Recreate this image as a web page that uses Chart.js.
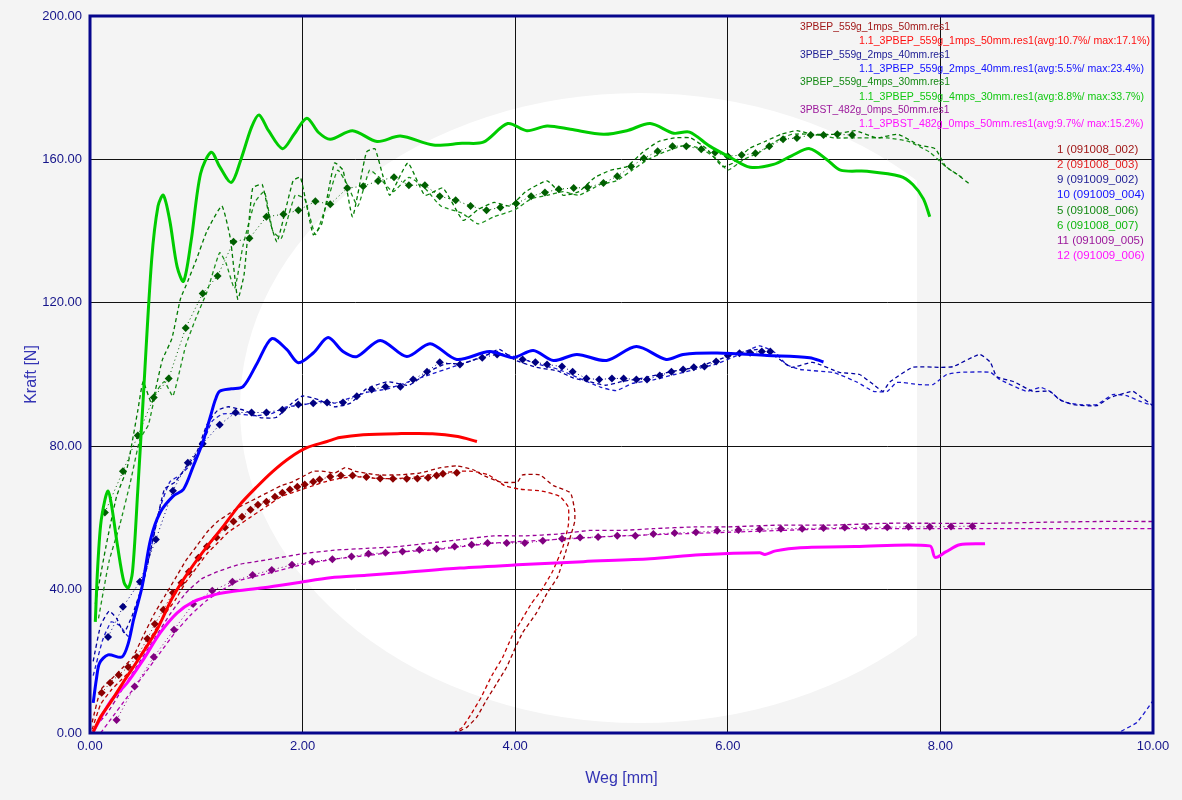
<!DOCTYPE html>
<html>
<head>
<meta charset="utf-8">
<script src="https://cdn.jsdelivr.net/npm/chart.js@4.4.1/dist/chart.umd.min.js"></script>
<style>
  html, body { margin: 0; padding: 0; background: #f4f4f4; }
  #wrap { width: 1182px; height: 800px; }
</style>
</head>
<body>
<div id="wrap"><canvas id="myChart" width="1182" height="800"></canvas></div>
<script>
// Achsen
const xTicks = [0, 2, 4, 6, 8, 10];
const yTicks = [0, 40, 80, 120, 160, 200];

// Legende
const gruppen = ['3PBEP_559g_1mps_50mm.res1', '3PBEP_559g_2mps_40mm.res1', '3PBEP_559g_4mps_30mm.res1', '3PBST_482g_0mps_50mm.res1'];
const mittelNamen = [
  '1.1_3PBEP_559g_1mps_50mm.res1(avg:10.7%/ max:17.1%)',
  '1.1_3PBEP_559g_2mps_40mm.res1(avg:5.5%/ max:23.4%)',
  '1.1_3PBEP_559g_4mps_30mm.res1(avg:8.8%/ max:33.7%)',
  '1.1_3PBST_482g_0mps_50mm.res1(avg:9.7%/ max:15.2%)'
];
const versuche = ['1 (091008_002)', '2 (091008_003)', '9 (091009_002)', '10 (091009_004)', '5 (091008_006)', '6 (091008_007)', '11 (091009_005)', '12 (091009_006)'];

// Mittelkurven (Weg mm, Kraft N)
const rotMittel = [[0.03,0.3],[0.1,4.5],[0.19,8.4],[0.31,14],[0.47,21.2],[0.63,28.8],[0.78,38],[0.94,45.5],[1.1,52],[1.25,57.5],[1.41,63.7],[1.57,68.7],[1.72,73],[1.88,76.8],[2.04,79.6],[2.23,81.3],[2.35,82.4],[2.57,83.2],[2.89,83.5],[3.22,83.5],[3.46,82.7],[3.64,81.3]];
const blauMittel = [[0.03,8.4],[0.06,15],[0.09,19.5],[0.17,21.8],[0.3,21.2],[0.36,25],[0.41,31.6],[0.49,40.8],[0.57,54],[0.66,61.5],[0.78,66],[0.88,68],[0.97,74.3],[1.06,81],[1.13,88],[1.18,93],[1.22,95.3],[1.33,96],[1.44,96.6],[1.57,103],[1.71,110],[1.85,107],[1.96,103.3],[2.1,106],[2.24,110.3],[2.38,106.4],[2.51,105],[2.73,109.5],[2.98,105],[3.2,108.6],[3.45,104.2],[3.76,106.4],[3.98,104.7],[4.17,106.7],[4.36,103.9],[4.58,105.6],[4.86,103.9],[5.14,107.8],[5.42,104.2],[5.58,105.6],[5.9,106],[6.37,105.3],[6.77,104.7],[6.9,103.5]];
const gruenMittel = [[0.05,31],[0.07,45],[0.1,58],[0.14,65],[0.17,67.5],[0.2,64],[0.26,52],[0.32,42],[0.36,40.5],[0.4,45],[0.45,68],[0.5,93],[0.58,132],[0.64,147],[0.69,150],[0.75,143],[0.82,130],[0.88,126],[0.95,137],[1.04,156],[1.14,162],[1.22,158],[1.33,153.6],[1.42,160],[1.52,169],[1.59,172.4],[1.68,168],[1.81,163],[1.92,167],[2.04,171.5],[2.15,167.5],[2.26,165.6],[2.47,168],[2.7,165],[2.92,166.5],[3.23,164],[3.5,164.5],[3.7,164.8],[3.93,170],[4.11,168],[4.3,169.3],[4.52,168.4],[4.83,167],[5.05,168],[5.27,170],[5.49,167.3],[5.64,167.6],[5.83,163.7],[6.02,160.6],[6.21,157.8],[6.43,158.6],[6.6,161],[6.77,163],[6.93,160],[7.06,157],[7.31,156.7],[7.62,155.3],[7.74,153],[7.84,149],[7.9,144]];
const pinkMittel = [[0.03,0.3],[0.19,8.7],[0.35,14],[0.5,20.4],[0.66,27.9],[0.82,33.5],[0.97,36.6],[1.16,38.5],[1.32,39.4],[1.63,40.5],[1.95,41.9],[2.26,43.3],[2.6,44],[2.92,44.7],[3.48,46],[4.02,46.9],[4.64,47.8],[5.27,48.6],[5.74,49.7],[6.3,50.3],[6.35,49.8],[6.45,50.8],[6.68,51.7],[7.2,52],[7.9,52.2],[7.95,49],[8.05,50.5],[8.18,52.5],[8.42,52.8]];

// Referenzkurven (Rauten)
const rotRef = [[0.11,11.2],[0.19,14],[0.27,16.2],[0.36,18.4],[0.44,21.2],[0.54,26.3],[0.61,30.4],[0.69,34.4],[0.78,39.1],[0.86,41.9],[0.93,45],[1.02,48.9],[1.1,52],[1.19,54.5],[1.27,57.3],[1.35,59],[1.43,60.3],[1.51,62.3],[1.58,63.7],[1.66,64.5],[1.74,65.9],[1.81,67],[1.88,67.9],[1.95,68.7],[2.02,69.3],[2.1,70.1],[2.16,70.7],[2.26,71.5],[2.36,71.8],[2.47,71.8],[2.6,71.4],[2.73,71],[2.85,70.9],[2.98,70.9],[3.08,71],[3.18,71.2],[3.26,71.8],[3.32,72.3],[3.45,72.6]];
const blauRef = [[0.17,26.8],[0.31,35.2],[0.47,42.2],[0.62,54],[0.78,67.6],[0.92,75.4],[1.06,80.7],[1.22,86],[1.37,89.4],[1.52,89.4],[1.66,89.4],[1.81,90.2],[1.96,91.6],[2.1,92],[2.23,92.2],[2.38,92.2],[2.51,93.9],[2.65,95.8],[2.78,96.6],[2.92,96.6],[3.04,98.6],[3.17,100.8],[3.29,103.4],[3.48,102.8],[3.69,104.7],[3.83,105.6],[4.07,104.2],[4.19,103.4],[4.3,102.8],[4.44,102.2],[4.54,100.8],[4.67,98.9],[4.79,98.6],[4.91,98.9],[5.02,98.9],[5.14,98.6],[5.24,98.6],[5.36,99.7],[5.47,100.8],[5.58,101.4],[5.68,102],[5.78,102.2],[5.89,103.6],[6.0,105.3],[6.11,105.9],[6.21,106.1],[6.32,106.4],[6.4,106.4]];
const gruenRef = [[0.14,61.5],[0.31,73],[0.45,83],[0.6,93.6],[0.74,98.9],[0.9,113],[1.06,122.6],[1.2,127.5],[1.35,137],[1.5,138],[1.66,144],[1.82,144.7],[1.96,145.8],[2.12,148.3],[2.26,147.5],[2.42,152],[2.57,152.5],[2.71,154],[2.86,155],[3.0,152.8],[3.15,152.8],[3.29,149.7],[3.44,148.6],[3.58,147],[3.73,145.8],[3.86,146.6],[4.01,147.7],[4.15,149.7],[4.28,150.8],[4.41,151.7],[4.55,152],[4.68,152.2],[4.83,153.4],[4.96,155.3],[5.09,158],[5.21,160.3],[5.34,162.3],[5.48,163.7],[5.61,163.7],[5.75,162.8],[5.88,161.9],[6.0,160.9],[6.13,161.2],[6.26,161.7],[6.39,163.7],[6.52,165.6],[6.65,166],[6.78,166.8],[6.9,166.8],[7.03,167],[7.17,166.8]];
const lilaRef = [[0.25,3.6],[0.42,13],[0.6,21.2],[0.79,28.8],[0.97,36],[1.15,39.7],[1.34,42.2],[1.53,44.1],[1.71,45.5],[1.9,46.9],[2.09,47.8],[2.28,48.5],[2.46,49.2],[2.62,50],[2.78,50.3],[2.94,50.6],[3.1,51.1],[3.26,51.4],[3.43,52],[3.59,52.5],[3.74,53],[3.92,53],[4.09,53],[4.26,53.6],[4.44,54.2],[4.61,54.5],[4.78,54.7],[4.96,55],[5.13,55],[5.3,55.5],[5.5,55.8],[5.7,56],[5.9,56.4],[6.1,56.6],[6.3,56.8],[6.5,57],[6.7,57],[6.9,57.2],[7.1,57.3],[7.3,57.4],[7.5,57.4],[7.7,57.5],[7.9,57.5],[8.1,57.6],[8.3,57.7]];

// Einzelversuche (gestrichelt)
const versuch1 = [[0.02,3],[0.1,12],[0.2,15],[0.3,18],[0.4,21],[0.5,27],[0.6,33],[0.7,38],[0.8,43],[0.9,48],[1.0,52],[1.1,56],[1.2,59],[1.3,61],[1.4,63],[1.5,64.5],[1.6,66],[1.7,67.5],[1.8,69],[1.9,70],[2.0,71.5],[2.1,73],[2.2,73],[2.3,72.5],[2.4,74],[2.5,73],[2.7,72],[2.9,72],[3.1,72.5],[3.3,74],[3.45,74.5],[3.6,73.5],[3.69,72],[3.86,70],[4.02,70],[4.07,72],[4.23,72],[4.36,69],[4.52,67],[4.56,62],[4.56,59],[4.53,55.8],[4.48,51],[4.4,43.6],[4.3,39],[4.2,33.5],[4.07,28],[4.0,23.7],[3.92,18.4],[3.83,14],[3.73,9.2],[3.64,4.5],[3.55,1.7],[3.46,0.3]];
const versuch2 = [[0.02,1],[0.1,8],[0.2,12],[0.3,15],[0.4,18],[0.5,23],[0.6,28],[0.7,33],[0.8,37],[0.9,42],[1.0,46],[1.1,50],[1.2,53],[1.3,56],[1.4,58],[1.5,60],[1.6,62],[1.7,64],[1.8,66],[1.9,67],[2.0,68],[2.1,69],[2.2,70],[2.35,71],[2.5,71.5],[2.7,71],[2.9,71],[3.1,71.5],[3.3,72.5],[3.45,73],[3.6,73],[3.75,72],[3.9,69],[4.05,68],[4.25,67.5],[4.42,66],[4.5,63],[4.5,58],[4.45,52],[4.35,45],[4.25,40],[4.15,36],[4.05,31],[3.97,27],[3.88,21],[3.78,16],[3.68,10],[3.58,5],[3.5,1.5],[3.42,0]];
const versuch9 = [[0.03,20],[0.1,30],[0.18,34],[0.25,32],[0.32,28],[0.4,33],[0.5,42],[0.6,55],[0.7,68],[0.8,70],[0.9,74],[1.0,78],[1.1,86],[1.2,90],[1.3,91],[1.45,90],[1.6,88],[1.75,88],[1.9,92],[2.0,94],[2.15,93],[2.3,91],[2.45,92],[2.6,96],[2.8,98],[3.0,97],[3.2,101],[3.35,103],[3.5,103],[3.7,105],[3.85,107],[4.0,104],[4.2,102],[4.4,101],[4.55,99],[4.7,98],[4.85,97],[5.0,98],[5.2,99],[5.35,100],[5.5,101],[5.7,102],[5.9,104],[6.1,106],[6.3,107],[6.45,105],[6.6,102],[6.8,103.4],[7.05,100.6],[7.24,100],[7.37,97.2],[7.46,95.3],[7.52,97.8],[7.74,102],[8.0,102],[8.12,102.2],[8.37,105.6],[8.47,103.4],[8.53,99.4],[8.69,98],[8.87,95.3],[9.03,95.3],[9.12,93],[9.25,91.6],[9.47,91.3],[9.6,93.6],[9.81,95.3],[9.88,93.9],[10,91.3]];
const versuch10 = [[0.03,16],[0.12,26],[0.2,31],[0.28,30],[0.36,27],[0.45,36],[0.55,48],[0.65,62],[0.75,70],[0.85,72],[0.95,75],[1.05,80],[1.15,87],[1.25,89],[1.4,89],[1.55,88.5],[1.7,89],[1.85,91],[2.0,91.5],[2.15,92.5],[2.3,92],[2.45,93.5],[2.6,95],[2.8,96],[3.0,98],[3.2,100],[3.4,102],[3.6,104],[3.8,106],[4.0,105],[4.2,103],[4.4,101.5],[4.6,99],[4.8,96.5],[4.95,95.5],[5.1,97.5],[5.3,98.5],[5.5,100],[5.7,101.5],[5.9,103],[6.1,105.5],[6.3,108],[6.45,106],[6.55,102.8],[6.68,101.4],[7.0,100.5],[7.22,97.8],[7.37,95.3],[7.5,95.3],[7.59,97.8],[7.8,97.2],[7.93,97.2],[8.06,100],[8.18,100.6],[8.47,100.6],[8.56,98.6],[8.81,95.3],[8.94,96.4],[9.03,95.3],[9.15,92.5],[9.31,91.6],[9.47,91.6],[9.62,94.4],[9.75,94.1],[9.88,92.5],[10,91.3],[null,null],[9.7,0.5],[9.85,3],[10,9]];
const versuch5 = [[0.05,36],[0.15,52],[0.25,66],[0.35,74],[0.45,90],[0.5,98],[0.58,92],[0.68,104],[0.77,110],[0.85,121],[0.92,126],[1.0,132],[1.1,140],[1.24,147],[1.32,138],[1.39,121],[1.45,128],[1.53,152],[1.62,153],[1.7,142],[1.76,137],[1.91,154],[1.98,155],[2.1,139],[2.18,142],[2.3,159],[2.38,157],[2.47,144],[2.6,162],[2.68,163],[2.75,156],[2.82,150],[2.99,159],[3.15,150],[3.32,152],[3.51,143],[3.65,146],[3.8,148],[3.95,147],[4.1,151],[4.3,154],[4.45,150],[4.6,151],[4.75,155],[4.9,157],[5.05,158],[5.2,162],[5.35,165],[5.5,166],[5.65,166],[5.8,163],[5.95,158],[6.05,159],[6.2,163],[6.35,165],[6.5,167],[6.65,168],[6.8,167],[7.0,167],[7.2,168],[7.4,166],[7.6,167],[7.8,164],[7.95,163],[8.05,158],[8.15,156],[8.28,153]];
const versuch6 = [[0.08,32],[0.18,48],[0.28,58],[0.38,70],[0.47,82],[0.55,86],[0.62,95],[0.7,98],[0.78,94],[0.9,108],[1.0,116],[1.1,123],[1.22,134],[1.28,131],[1.36,124],[1.44,136],[1.55,148],[1.64,151],[1.72,140],[1.8,138],[1.93,150],[2.02,149],[2.12,139],[2.22,147],[2.33,157],[2.42,153],[2.52,147],[2.63,157],[2.72,155],[2.85,151],[3.0,155],[3.15,152],[3.3,147],[3.5,145],[3.65,142],[3.8,144],[4.0,146],[4.15,149],[4.3,150],[4.45,151],[4.6,150],[4.8,153],[4.95,154],[5.1,157],[5.25,160],[5.4,162],[5.6,164],[5.75,163],[5.9,160],[6.0,157],[6.15,160],[6.3,162],[6.45,165],[6.6,167],[6.8,167],[7.0,166],[7.2,166],[7.5,166],[7.7,165],[7.9,162],[8.05,158],[8.2,155]];
const versuch11 = [[0.05,2],[0.15,5],[0.3,12],[0.45,19],[0.6,26],[0.75,33],[0.9,39],[1.05,43],[1.2,45],[1.4,47],[1.6,48],[1.8,49],[2.0,50],[2.3,51],[2.6,51.5],[2.9,52],[3.2,53],[3.5,54],[3.8,55],[4.1,55],[4.4,55.5],[4.7,56.5],[5.0,56.5],[5.3,57],[5.7,57.5],[6.0,57.5],[6.5,58],[7.0,58],[7.5,58.5],[8.0,58.5],[8.5,58.5],[9.0,58.8],[9.5,59],[10,59]];
const versuch12 = [[0.1,0],[0.2,4],[0.35,10],[0.5,16],[0.65,22],[0.8,28],[0.95,33],[1.1,37],[1.25,40],[1.4,42.5],[1.6,44],[1.8,45.5],[2.0,47],[2.3,48.5],[2.6,49.5],[2.9,50.5],[3.2,51],[3.5,52],[3.8,53],[4.1,53.5],[4.4,54],[4.7,54.5],[5.0,55],[5.5,55.5],[6.0,56],[6.5,56.5],[7.0,57],[7.5,57],[8.0,57],[8.5,57],[9.0,57],[9.5,57],[10,57]];

function pts(arr) {
  return arr.map(p => ({ x: p[0], y: p[1] }));
}

function mittel(data, color) {
  return { data: pts(data), borderColor: color, borderWidth: 3, pointRadius: 0, tension: 0.3, fill: false };
}
function referenz(data, color) {
  return { data: pts(data), borderColor: color, borderWidth: 1, borderDash: [1, 3], pointStyle: 'rectRot', pointRadius: 4, pointBackgroundColor: color, pointBorderWidth: 0, fill: false };
}
function einzel(data, color) {
  return { data: pts(data), borderColor: color, borderWidth: 1.3, borderDash: [4, 3], pointRadius: 0, tension: 0.15, fill: false, spanGaps: false };
}

const datasets = [
  mittel(gruenMittel, '#00cc00'),
  mittel(blauMittel, '#0000ff'),
  mittel(rotMittel, '#ff0000'),
  mittel(pinkMittel, '#ff00ff'),
  referenz(gruenRef, '#005f00'),
  referenz(blauRef, '#000080'),
  referenz(rotRef, '#8b0000'),
  referenz(lilaRef, '#800080'),
  einzel(versuch5, '#007a00'),
  einzel(versuch6, '#1a8f1a'),
  einzel(versuch9, '#0000a0'),
  einzel(versuch10, '#1a1acc'),
  einzel(versuch1, '#a00000'),
  einzel(versuch2, '#c00000'),
  einzel(versuch11, '#990099'),
  einzel(versuch12, '#b000b0')
];

const hintergrund = {
  id: 'hintergrund',
  beforeDraw(chart) {
    const ctx = chart.ctx;
    ctx.save();
    ctx.fillStyle = '#f4f4f4';
    ctx.fillRect(0, 0, chart.width, chart.height);
    ctx.beginPath();
    ctx.rect(0, 0, 917, chart.height);
    ctx.clip();
    ctx.fillStyle = '#ffffff';
    ctx.beginPath();
    ctx.ellipse(640, 408, 400, 315, 0, 0, Math.PI * 2);
    ctx.fill();
    ctx.restore();
  }
};

const rahmenUndLegende = {
  id: 'rahmenUndLegende',
  afterDraw(chart) {
    const ctx = chart.ctx;
    const a = chart.chartArea;
    ctx.save();
    ctx.strokeStyle = '#06068c';
    ctx.lineWidth = 3;
    ctx.strokeRect(a.left, a.top, a.right - a.left, a.bottom - a.top);

    ctx.textBaseline = 'middle';
    const kopfFarben = ['#a01818', '#1c1c94', '#158a15', '#9b189b'];
    const mittelFarben = ['#ff1010', '#1010ff', '#10c810', '#ff10ff'];
    gruppen.forEach((t, i) => {
      ctx.font = '10.3px "Liberation Sans", Arial, sans-serif';
      ctx.fillStyle = kopfFarben[i];
      ctx.fillText(t, 800, 27 + i * 27.8);
      ctx.font = '10.6px "Liberation Sans", Arial, sans-serif';
      ctx.fillStyle = mittelFarben[i];
      ctx.fillText(mittelNamen[i], 859, 41 + i * 27.8);
    });
    ctx.font = '11.5px "Liberation Sans", Arial, sans-serif';
    const versuchFarben = ['#a01818', '#e02020', '#1c1c94', '#1010ff', '#158a15', '#10b810', '#9b189b', '#ff10ff'];
    versuche.forEach((t, i) => {
      ctx.fillStyle = versuchFarben[i];
      ctx.fillText(t, 1057, 150 + i * 15.1);
    });
    ctx.restore();
  }
};

const config = {
  type: 'line',
  data: { datasets: datasets },
  options: {
    responsive: false,
    animation: false,
    devicePixelRatio: 1,
    layout: { padding: { left: 0, right: 29, top: 16, bottom: 0 } },
    plugins: { legend: { display: false }, tooltip: { enabled: false } },
    scales: {
      x: {
        type: 'linear', min: 0, max: 10,
        afterBuildTicks(s) { s.ticks = xTicks.map(v => ({ value: v })); },
        afterFit(s) { s.height = 67; },
        ticks: { callback: v => v.toFixed(2), color: '#14148a', font: { family: 'Liberation Sans', size: 13 }, padding: 6, maxRotation: 0 },
        grid: { color: '#111111', lineWidth: 1, drawTicks: false },
        border: { display: false },
        title: { display: true, text: 'Weg [mm]', color: '#3434b4', font: { family: 'Liberation Sans', size: 16 }, padding: { top: 0, bottom: 12 } }
      },
      y: {
        type: 'linear', min: 0, max: 200,
        afterBuildTicks(s) { s.ticks = yTicks.map(v => ({ value: v })); },
        afterFit(s) { s.width = 90; },
        ticks: { callback: v => v.toFixed(2), color: '#14148a', font: { family: 'Liberation Sans', size: 13 }, padding: 8 },
        grid: { color: '#111111', lineWidth: 1, drawTicks: false },
        border: { display: false },
        title: { display: true, text: 'Kraft [N]', color: '#3434b4', font: { family: 'Liberation Sans', size: 16 }, padding: { top: 22, bottom: 0 } }
      }
    }
  },
  plugins: [hintergrund, rahmenUndLegende]
};

const myChart = new Chart(document.getElementById('myChart'), config);
</script>
</body>
</html>
